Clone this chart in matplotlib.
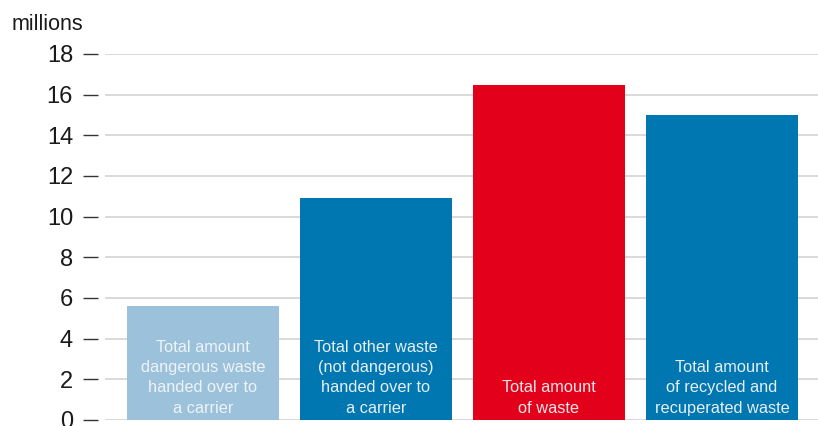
import matplotlib
import numpy as np

from matplotlib import pyplot as plt

matplotlib.rcParams['font.family'] = ['Liberation Sans', 'DejaVu Sans']

labels = [
    'Total amount\ndangerous waste\nhanded over to\na carrier',
    'Total other waste\n(not dangerous)\nhanded over to\na carrier',
    'Total amount\nof waste',
    'Total amount\nof recycled and\nrecuperated waste',
]
values = [5.6, 10.9, 16.5, 15.0]
colors = ['#9cc2db', '#0077b0', '#e2001a', '#0077b0']
text_colors = ['#eef3f7', '#e6eef5', '#f7e6e8', '#e6eef5']
yticks = [0, 2, 4, 6, 8, 10, 12, 14, 16, 18]

fig = plt.figure(figsize=(8.18, 4.26), dpi=100)
ax = fig.add_axes([105 / 818, 6 / 426, 713 / 818, 366 / 426])

x = np.arange(len(values))
ax.bar(x, values, width=0.879, color=colors, zorder=3)

for xi, lab, tc in zip(x, labels, text_colors):
    ax.text(xi, 0.22, lab, ha='center', va='bottom', color=tc, fontsize=11.8,
            linespacing=1.43, zorder=4)

ax.set_xlim(-0.566, 3.555)
ax.set_ylim(0, 18)
ax.set_yticks(yticks)
ax.set_xticks([])
ax.grid(axis='y', color='#d0d0d0', linewidth=1.1, zorder=0)
ax.set_axisbelow(True)

for s in ['top', 'right', 'bottom']:
    ax.spines[s].set_visible(False)
ax.spines['left'].set_position(('outward', 5))
ax.spines['left'].set_visible(False)
ax.tick_params(axis='y', direction='out', length=11, width=1.0, color='#333333',
               labelsize=17, pad=7, labelcolor='#1a1a1a')

fig.text(12 / 818, 1 - 30 / 426, 'millions', fontsize=15.5, color='#1a1a1a',
         ha='left', va='baseline')

fig.savefig('out.png', dpi=100)
